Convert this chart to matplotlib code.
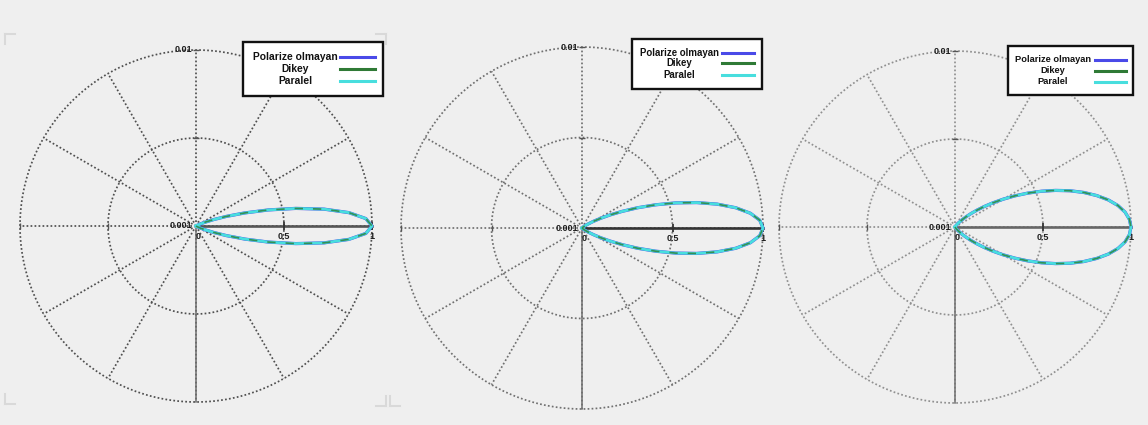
import numpy as np
import matplotlib
matplotlib.use("Agg")
import matplotlib.pyplot as plt
from matplotlib.patches import Rectangle
from matplotlib.lines import Line2D

# ---- data -------------------------------------------------------------
series_names = ["Polarize olmayan", "Dikey", "Paralel"]
series_colors = ["#4a4ae8", "#2f7a36", "#48dede"]

# half-lobe sampling angles (degrees); each lobe is symmetric about 0 deg
angle_deg = [0, 2.5, 5, 7.5, 10, 12.5, 15, 17.5, 20, 22.5, 25, 27.5, 30,
             32.5, 35, 37.5, 40, 42.5, 45, 50, 55, 60, 70, 80, 90]

# normalised intensity for the three panels (all three series coincide)
lobe_left = [1.000, 0.966, 0.872, 0.734, 0.576, 0.422, 0.287, 0.182, 0.107,
             0.058, 0.029, 0.013, 0.006, 0.002, 0.001, 0, 0, 0, 0,
             0, 0, 0, 0, 0, 0]
lobe_middle = [1.000, 0.983, 0.934, 0.857, 0.759, 0.649, 0.536, 0.426, 0.327,
               0.240, 0.170, 0.116, 0.075, 0.047, 0.028, 0.016, 0.008, 0.004,
               0.002, 0, 0, 0, 0, 0, 0]
lobe_right = [1.000, 0.992, 0.970, 0.934, 0.885, 0.825, 0.758, 0.685, 0.608,
              0.531, 0.455, 0.383, 0.316, 0.256, 0.203, 0.157, 0.119, 0.087,
              0.063, 0.029, 0.012, 0.004, 0, 0, 0]
lobes = [lobe_left, lobe_middle, lobe_right]

center_label = "0.001"
outer_label = "0.01"
axis_ticks = [0, 0.5, 1]
axis_tick_labels = ["0", "0.5", "1"]
grid_radii = [0.5, 1.0]
spoke_deg = list(range(0, 360, 30))

# ---- layout (pixels) --------------------------------------------------
W, H = 1148, 425
panels = [
    dict(c=(196, 226), R=176, grid="#4f4f4f", axis="#555555",
         leg=(243, 42, 383, 96), leg_tx=295, leg_ly=(57, 69, 81),
         leg_line=(340, 375), fs=7.4),
    dict(c=(582, 228), R=181, grid="#707070", axis="#333333",
         leg=(632, 39, 762, 89), leg_tx=679, leg_ly=(52.5, 63, 75),
         leg_line=(722, 754), fs=6.9),
    dict(c=(955, 227), R=176, grid="#909090", axis="#666666",
         leg=(1008, 46, 1133, 95), leg_tx=1053, leg_ly=(60, 70.5, 81.5),
         leg_line=(1095, 1126), fs=6.7),
]

BG = "#efefef"
FONT = "Liberation Sans"

fig = plt.figure(figsize=(W / 100, H / 100), dpi=100, facecolor=BG)


def fx(x):
    return x / W


def fy(y):
    return 1 - y / H


dotted = (0, (1.0, 1.3))
theta_circle = np.linspace(0, 2 * np.pi, 721)
half = np.deg2rad(np.array(angle_deg))

for p, lobe in zip(panels, lobes):
    cx, cy = p["c"]
    R = p["R"]
    ax = fig.add_axes([fx(cx - R), fy(cy + R), 2 * R / W, 2 * R / H],
                      projection="polar")
    ax.set_ylim(0, 1)
    ax.set_xticks([])
    ax.set_yticks([])
    ax.grid(False)
    ax.spines["polar"].set_visible(False)
    ax.patch.set_visible(False)

    # dotted grid: circles and spokes
    for rr in grid_radii:
        ax.plot(theta_circle, np.full_like(theta_circle, rr), color=p["grid"],
                lw=1.25, ls=dotted, clip_on=False, zorder=1)
    for d in spoke_deg:
        t = np.deg2rad(d)
        ax.plot([t, t], [0, 1], color=p["grid"], lw=1.25, ls=dotted,
                clip_on=False, zorder=1)

    # solid axes
    ax.plot([0, 0], [0, 1], color=p["axis"], lw=1.9, clip_on=False, zorder=2)
    ax.plot([-np.pi / 2, -np.pi / 2], [0, 1], color="#707070", lw=1.1,
            clip_on=False, zorder=2)

    # tick marks
    for tv in axis_ticks[1:]:
        ax.plot([0], [tv], marker="|", ms=6, mew=1.3, color="#333333",
                clip_on=False, zorder=3)
        ax.plot([np.pi], [tv], marker="|", ms=5, mew=1.0, color="#555555",
                clip_on=False, zorder=3)
        ax.plot([np.pi / 2], [tv], marker="_", ms=5, mew=1.0, color="#555555",
                clip_on=False, zorder=3)

    # lobes
    r = np.array(lobe)
    theta = np.concatenate([-half[::-1], half[1:]])
    rr = np.concatenate([r[::-1], r[1:]])
    ax.plot(theta, rr, color=series_colors[0], lw=2.3, clip_on=False, zorder=4)
    ax.plot(theta, rr, color=series_colors[2], lw=2.0, clip_on=False, zorder=5)
    ax.plot(theta, rr, color=series_colors[1], lw=1.2, alpha=0.8,
            ls=(0, (5, 6)), clip_on=False, zorder=6)

    # axis labels
    lab = dict(fontsize=6.5, fontweight="bold", family=FONT, color="#1e1e1e")
    ax.annotate(center_label, (0, 0), xytext=(-3, 0), textcoords="offset points",
                ha="right", va="center", **lab)
    ax.annotate(outer_label, (np.pi / 2, 1), xytext=(-3, 0),
                textcoords="offset points", ha="right", va="center",
                annotation_clip=False, **lab)
    for tv, tl in zip(axis_ticks, axis_tick_labels):
        dx = 1.5 if tv == 0 else 0
        ax.annotate(tl, (0, tv), xytext=(dx, -7.5), textcoords="offset points",
                    ha="center", va="center", annotation_clip=False, **lab)

    # legend box
    x0, y0, x1, y1 = p["leg"]
    fig.add_artist(Rectangle((fx(x0), fy(y1)), (x1 - x0) / W, (y1 - y0) / H,
                             transform=fig.transFigure, facecolor="white",
                             edgecolor="#111111", lw=1.7, zorder=10))
    lx0, lx1 = p["leg_line"]
    for name, col, ly in zip(series_names, series_colors, p["leg_ly"]):
        fig.text(fx(p["leg_tx"]), fy(ly), name, ha="center", va="center",
                 fontsize=p["fs"], fontweight="bold", family=FONT,
                 color="#111111", zorder=11)
        fig.add_artist(Line2D([fx(lx0), fx(lx1)], [fy(ly), fy(ly)],
                              transform=fig.transFigure, color=col, lw=2.2,
                              zorder=11))

# faint frame corners of the three panels
corner_col = "#d9d9d9"
for (x, y, sx, sy) in [(5, 34, 1, 1), (5, 404, 1, -1), (386, 34, -1, 1),
                       (386, 406, -1, -1), (390, 406, 1, -1)]:
    fig.add_artist(Line2D([fx(x), fx(x + 10 * sx)], [fy(y), fy(y)],
                          transform=fig.transFigure, color=corner_col, lw=1.5))
    fig.add_artist(Line2D([fx(x), fx(x)], [fy(y), fy(y + 10 * sy)],
                          transform=fig.transFigure, color=corner_col, lw=1.5))

fig.savefig("out.png", dpi=100, facecolor=BG)
